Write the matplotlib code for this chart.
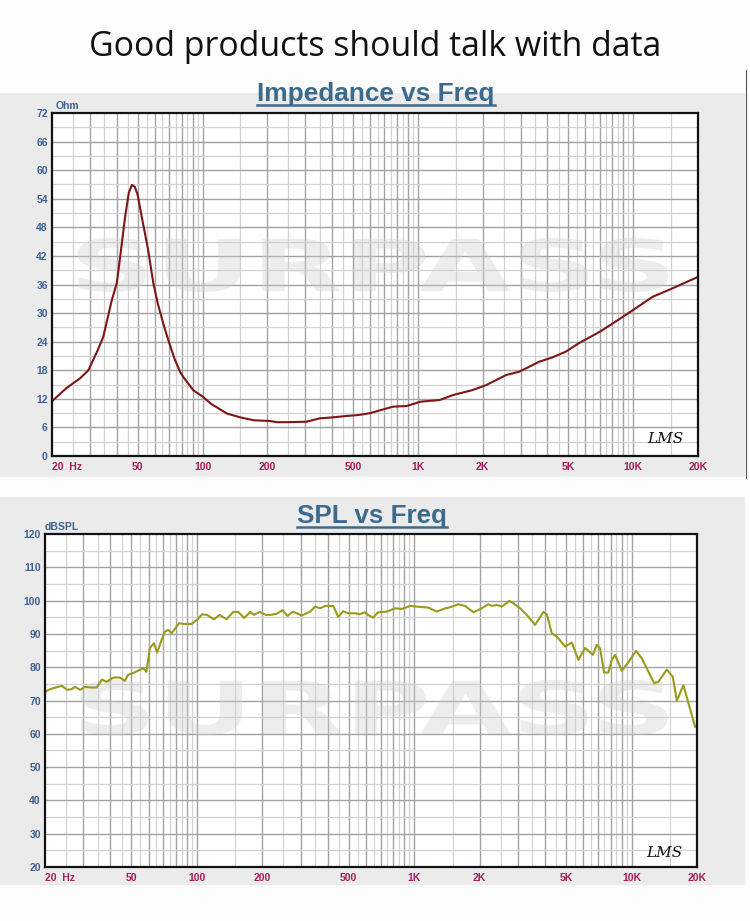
import matplotlib
matplotlib.use('Agg')
import matplotlib.pyplot as plt
from matplotlib.patches import Rectangle, PathPatch
from matplotlib.textpath import TextPath
from matplotlib.font_manager import FontProperties
from matplotlib.transforms import Affine2D
import numpy as np

# ---------------- data ----------------
imp_freq = [20, 23.4, 27, 29.5, 32.6, 34.6, 37.9, 40, 42.3, 43.7, 45.5, 47, 48.5, 50,
            52.2, 55.8, 59.1, 62, 66, 69.4, 74, 78.6, 81.4, 90.6, 100, 110, 130, 150,
            173, 206, 221, 250, 304, 350, 400, 466, 530, 601, 680, 766, 889, 1028,
            1263, 1457, 1799, 2080, 2571, 2961, 3667, 4219, 4864, 5606, 7008, 8086,
            9956, 12290, 15240, 20000]
imp_ohm = [11.5, 14.3, 16.3, 18.0, 22.2, 25.0, 32.7, 36.3, 45.0, 50.2, 55.3, 56.9, 56.5, 54.8,
           50.2, 43.5, 36.3, 32.0, 27.5, 24.3, 20.5, 17.7, 16.6, 13.8, 12.5, 10.9, 8.9, 8.1,
           7.5, 7.35, 7.1, 7.1, 7.2, 7.9, 8.1, 8.4, 8.6, 9.0, 9.7, 10.35, 10.5, 11.4,
           11.75, 12.8, 13.85, 14.9, 17.0, 17.7, 19.8, 20.7, 21.9, 23.7, 26.1, 27.9,
           30.6, 33.4, 35.2, 37.6]

spl_freq = [20, 21.1, 23.9, 25.3, 26.5, 27.5, 29.0, 30.6, 32.2, 34.6, 36.5, 38.4, 41.3, 44.2,
            46.6, 48.2, 50.7, 54.6, 56.6, 58.6, 60.7, 63.4, 65.6, 68.8, 71.3, 73.8, 76.5,
            82.8, 86.6, 94.7, 100, 105.7, 111.1, 119.7, 127.2, 136.9, 147, 155, 164.9,
            176.2, 182.8, 194.2, 208, 217, 232, 248, 261, 277, 303, 332, 350, 369, 389,
            424, 447, 471, 497, 534, 562, 592, 613, 647, 682, 748, 817, 877, 958, 1029,
            1163, 1270, 1391, 1462, 1596, 1714, 1871, 2008, 2193, 2274, 2398, 2528, 2740,
            2858, 3070, 3296, 3599, 3929, 4073, 4294, 4528, 4944, 5306, 5692, 6110, 6630,
            6916, 7162, 7474, 7820, 8110, 8397, 9016, 9840, 10490, 11140, 12700, 13290,
            14520, 15480, 16150, 17320, 19600, 20000]
spl_db = [72.6, 73.4, 74.4, 73.2, 73.4, 74.1, 73.2, 74.1, 73.9, 73.9, 76.3, 75.6, 76.9, 76.9,
          75.9, 77.7, 78.2, 79.2, 79.7, 78.6, 85.7, 87.2, 84.4, 88.2, 90.7, 91.2, 90.2,
          93.2, 93.0, 93.0, 94.2, 95.9, 95.7, 94.4, 95.7, 94.4, 96.6, 96.6, 94.8,
          96.6, 95.7, 96.6, 95.7, 95.7, 96.0, 97.1, 95.4, 96.7, 95.5, 96.7, 98.2, 97.7, 98.4,
          98.4, 95.1, 96.8, 96.2, 96.2, 95.9, 96.5, 95.7, 94.9, 96.5, 96.7, 97.7, 97.5, 98.4, 98.2,
          97.9, 96.7, 97.7, 98.0, 98.9, 98.4, 96.5, 97.4, 98.9, 98.4, 98.7, 98.2, 99.9,
          99.2, 97.7, 95.7, 92.7, 96.6, 95.9, 90.2, 89.2, 86.2, 87.4, 82.2, 85.8, 83.7,
          86.7, 85.7, 78.4, 78.4, 82.2, 83.7, 78.9, 82.2, 84.9, 82.7, 75.2, 75.6,
          79.3, 77.1, 69.9, 74.6, 62.1, 62.1]

xtick_vals = [20, 50, 100, 200, 500, 1000, 2000, 5000, 10000, 20000]
xtick_labels = ["20  Hz", "50", "100", "200", "500", "1K", "2K", "5K", "10K", "20K"]

# ---------------- layout ----------------
W, H = 750, 921
fig = plt.figure(figsize=(W / 100, H / 100), dpi=100)
fig.patch.set_facecolor('#fdfdfd')

def frac(x0, y0, x1, y1):
    return [x0 / W, 1 - y1 / H, (x1 - x0) / W, (y1 - y0) / H]

# gray panels
for (x0, y0, x1, y1) in [(0, 93, 745, 477), (0, 497, 745, 885)]:
    b = frac(x0, y0, x1, y1)
    fig.patches.append(Rectangle((b[0], b[1]), b[2], b[3], transform=fig.transFigure,
                                 facecolor='#ebebeb', edgecolor='none', zorder=-5))
# thin dark edge at the right of the upper panel
fig.add_artist(plt.Line2D([745.5 / W] * 2, [1 - 70 / H, 1 - 478 / H], color='#555555', lw=0.8))

YCOL = '#3d6290'
XCOL = '#a51f5c'
TCOL = '#3c6a8c'
DARK = '#a2a2a2'
LIGHT = '#d2d2d2'

renderer = fig.canvas.get_renderer()

def fit_text(x_px, y_px, s, width_px, **kw):
    t = fig.text(x_px / W, 1 - y_px / H, s, fontsize=10, **kw)
    w = t.get_window_extent(renderer).width
    t.set_fontsize(10 * width_px / w)
    return t

def watermark(ax, box):
    fp = FontProperties(family='DejaVu Sans', weight='bold')
    tp = TextPath((0, 0), "SURPASS", size=1, prop=fp)
    ext = tp.get_extents()
    x0, y0, x1, y1 = box
    tr = (Affine2D().translate(-ext.x0, -ext.y0)
          .scale((x1 - x0) / ext.width, (y1 - y0) / ext.height)
          .translate(x0, y0) + ax.transAxes)
    ax.add_patch(PathPatch(tp, transform=tr, facecolor='#d0d0d0', edgecolor='none',
                           alpha=0.38, zorder=2))

def setup(ax, ymin, ymax, ystep, unit, unit_xy):
    ax.set_xscale('log')
    ax.set_xlim(20, 20000)
    ax.set_ylim(ymin, ymax)
    ax.set_facecolor('white')
    dark_x, light_x = [], []
    for dec in [10, 100, 1000, 10000]:
        for m in range(1, 10):
            v = m * dec
            if 20 < v < 20000:
                dark_x.append(v)
            hv = (m + 0.5) * dec
            if 20 < hv < 20000:
                light_x.append(hv)
    ax.vlines(light_x, 0, 1, transform=ax.get_xaxis_transform(), colors=LIGHT, lw=0.9, zorder=1)
    ax.vlines(dark_x, 0, 1, transform=ax.get_xaxis_transform(), colors=DARK, lw=1.0, zorder=1)
    yl = np.arange(ymin + ystep / 2, ymax, ystep)
    yd = np.arange(ymin + ystep, ymax, ystep)
    ax.hlines(yl, 0, 1, transform=ax.get_yaxis_transform(), colors=LIGHT, lw=0.9, zorder=1)
    ax.hlines(yd, 0, 1, transform=ax.get_yaxis_transform(), colors=DARK, lw=1.0, zorder=1)
    ax.set_yticks(np.arange(ymin, ymax + 0.1, ystep))
    ax.set_yticklabels([str(int(v)) for v in np.arange(ymin, ymax + 0.1, ystep)])
    ax.set_xticks(xtick_vals)
    ax.set_xticklabels(xtick_labels)
    ax.xaxis.set_minor_locator(matplotlib.ticker.NullLocator())
    ax.tick_params(axis='both', length=0)
    ax.tick_params(axis='y', pad=3, colors=YCOL, labelsize=7.5)
    ax.tick_params(axis='x', pad=4, colors=XCOL, labelsize=7.5)
    for lab in ax.get_yticklabels() + ax.get_xticklabels():
        lab.set_fontweight('bold')
        lab.set_fontfamily('Liberation Sans')
    ax.get_xticklabels()[0].set_horizontalalignment('left')
    for sp in ax.spines.values():
        sp.set_color('#111111')
        sp.set_linewidth(1.6)
        sp.set_zorder(5)
    ax.text(unit_xy[0], unit_xy[1], unit, transform=ax.transAxes, color=YCOL,
            fontsize=7.5, fontweight='bold', family='Liberation Sans', ha='left', va='bottom')

# ---------------- main title ----------------
fit_text(375, 56, "Good products should talk with data", 574, ha='center', va='baseline',
         family='Open Sans', color='#111111')

# ---------------- impedance ----------------
ax1 = fig.add_axes(frac(52, 113, 698, 456))
setup(ax1, 0, 72, 6, "Ohm", (0.005, 1.005))
watermark(ax1, (0.040, 0.478, 0.954, 0.636))
ax1.plot(imp_freq, imp_ohm, color='#7d1616', lw=1.5, zorder=4)
ax1.text(0.95, 0.03, "LMS", transform=ax1.transAxes, ha='center', va='bottom',
         fontsize=11, style='italic', family='DejaVu Serif', color='#111111', zorder=6)

fit_text(376, 101, "Impedance vs Freq", 239, ha='center', va='baseline',
         family='Liberation Sans', fontweight='bold', color=TCOL)
fig.add_artist(plt.Line2D([257 / W, 495 / W], [1 - 104.5 / H] * 2, color=TCOL, lw=1.8))

# ---------------- SPL ----------------
ax2 = fig.add_axes(frac(45, 534, 697, 867))
setup(ax2, 20, 120, 10, "dBSPL", (0.0, 1.005))
watermark(ax2, (0.054, 0.396, 0.955, 0.562))
ax2.plot(spl_freq, spl_db, color='#9a9a1c', lw=1.5, zorder=4)
ax2.text(0.95, 0.02, "LMS", transform=ax2.transAxes, ha='center', va='bottom',
         fontsize=11, style='italic', family='DejaVu Serif', color='#111111', zorder=6)

fit_text(372, 523, "SPL vs Freq", 150, ha='center', va='baseline',
         family='Liberation Sans', fontweight='bold', color=TCOL)
fig.add_artist(plt.Line2D([297 / W, 447 / W], [1 - 526.5 / H] * 2, color=TCOL, lw=1.8))

fig.savefig('out.png', dpi=100, facecolor=fig.get_facecolor())
